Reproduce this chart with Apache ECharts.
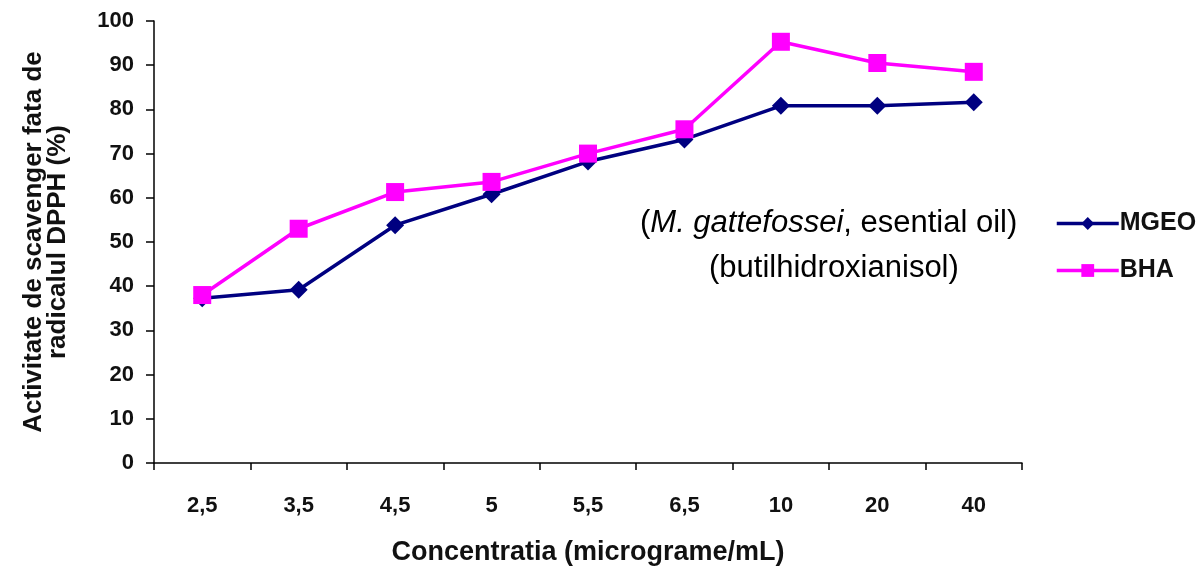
<!DOCTYPE html>
<html><head><meta charset="utf-8">
<script src="https://cdn.jsdelivr.net/npm/echarts@6/dist/echarts.min.js"></script>
<style>html,body{margin:0;padding:0;background:#fff}#c{width:1200px;height:568px}</style>
</head><body><div id="c"></div>
<script>
const categories = ['2,5','3,5','4,5','5','5,5','6,5','10','20','40'];
const mgeo = [37.3, 39.2, 53.8, 60.8, 68.2, 73.2, 80.8, 80.8, 81.6];
const bha = [38.0, 53.0, 61.3, 63.6, 70.0, 75.5, 95.3, 90.5, 88.5];
const yTicks = [0,10,20,30,40,50,60,70,80,90,100];

const font = '"Liberation Sans", Arial, sans-serif';
const chart = echarts.init(document.getElementById('c'));
chart.setOption({
  animation: false,
  backgroundColor: '#fff',
  grid: {left: 154, top: 21, right: 178, bottom: 105, containLabel: false, outerBoundsMode: 'none'},
  xAxis: {
    type: 'category', data: categories, boundaryGap: true,
    axisLine: {lineStyle: {color: '#000', width: 1.5}},
    axisTick: {show: true, alignWithLabel: false, length: 7, lineStyle: {color: '#000', width: 1.5}},
    axisLabel: {color: '#111', fontFamily: font, fontWeight: 'bold', fontSize: 22, margin: 32},
    name: 'Concentratia (micrograme/mL)', nameLocation: 'middle', nameGap: 76,
    nameTextStyle: {color: '#111', fontFamily: font, fontWeight: 'bold', fontSize: 27}
  },
  yAxis: {
    type: 'value', min: 0, max: 100, interval: 10,
    splitLine: {show: false},
    axisLine: {show: true, lineStyle: {color: '#000', width: 1.5}},
    axisTick: {show: true, length: 8, lineStyle: {color: '#000', width: 1.5}},
    axisLabel: {color: '#111', fontFamily: font, fontWeight: 'bold', fontSize: 22, margin: 20,
      formatter: v => yTicks.includes(v) ? String(v) : ''},
    name: 'Activitate de scavenger fata de\nradicalul DPPH (%)', nameLocation: 'middle', nameGap: 84,
    nameTextStyle: {color: '#111', fontFamily: font, fontWeight: 'bold', fontSize: 26, lineHeight: 24}
  },
  legend: {
    orient: 'vertical', left: 1050, top: 206, itemGap: 22, itemWidth: 62, itemHeight: 16,
    lineStyle: {width: 3.5},
    textStyle: {color: '#111', fontFamily: font, fontWeight: 'bold', fontSize: 25, padding: [0,0,0,-4]},
    data: ['MGEO','BHA']
  },
  graphic: [{
    type: 'text', left: 640, top: 208,
    style: {
      rich: {
        n: {fontFamily: font, fontSize: 31, fill: '#000'},
        i: {fontFamily: font, fontSize: 31, fontStyle: 'italic', fill: '#000'}
      },
      text: '{n|(}{i|M. gattefossei}{n|, esential oil)}'
    }
  }, {
    type: 'text', left: 709, top: 253,
    style: {text: '(butilhidroxianisol)', fontFamily: font, fontSize: 31, fill: '#000'}
  }],
  series: [{
    name: 'MGEO', type: 'line', data: mgeo, symbol: 'diamond', symbolSize: 18,
    lineStyle: {color: '#000080', width: 3.5}, itemStyle: {color: '#000080'}, z: 2
  }, {
    name: 'BHA', type: 'line', data: bha, symbol: 'rect', symbolSize: 18,
    lineStyle: {color: '#ff00ff', width: 3.5}, itemStyle: {color: '#ff00ff'}, z: 3
  }]
});
</script></body></html>
